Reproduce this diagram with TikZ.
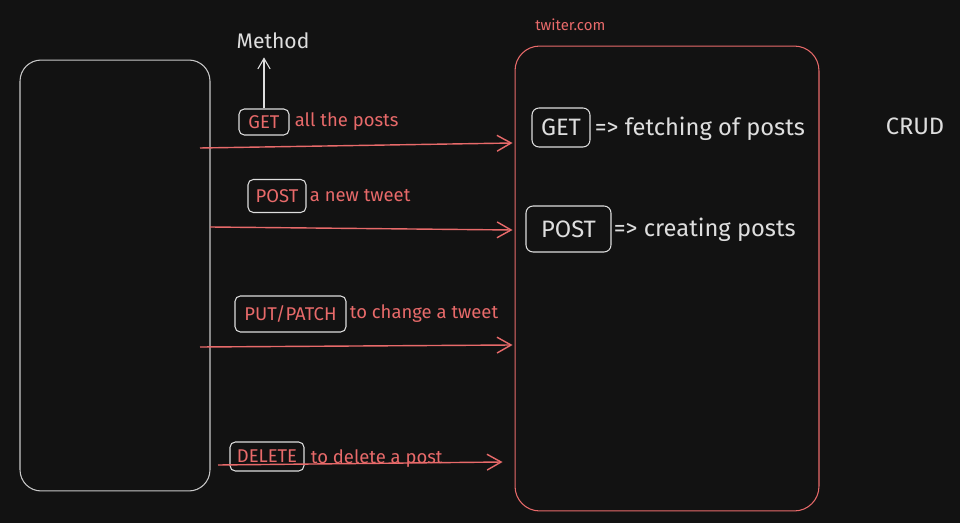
\documentclass[tikz,border=0pt]{standalone}
\usepackage{fontspec}
\setmainfont{Fira Sans}
\usetikzlibrary{calc,arrows.meta}

\definecolor{bg}{RGB}{18,18,18}
\definecolor{req}{RGB}{232,106,106}
\definecolor{chalk}{RGB}{222,222,222}

\begin{document}
\begin{tikzpicture}[x=0.02cm, y=-0.02cm]

\tikzset{
  box/.style={draw, rounded corners=12pt, inner sep=0pt, line width=0.6pt},
  method/.style={draw=chalk, rounded corners=3pt, inner sep=0pt, line width=0.6pt, text=req, font=\fontsize{10.5}{12}\selectfont},
  smethod/.style={draw=chalk, rounded corners=4pt, inner sep=0pt, line width=0.6pt, text=chalk, font=\fontsize{13.5}{16}\selectfont},
  note/.style={anchor=west, inner sep=0pt, text=req, font=\fontsize{10.5}{12}\selectfont},
  snote/.style={anchor=west, inner sep=0pt, text=chalk, font=\fontsize{13.5}{16}\selectfont},
  call/.style={draw=req, line width=0.8pt, -{Straight Barb[length=8pt, width=9pt]}},
}

\useasboundingbox[fill=bg] (0,0) rectangle (960,523);

% client and server
\node[box, draw=chalk!90!black, minimum width=3.8cm, minimum height=8.62cm, name=client] at (115,275.5) {};
\node[box, draw=req, rounded corners=14pt, minimum width=6.08cm, minimum height=9.3cm, name=server] at (667,278.5) {};
\node[anchor=west, inner sep=0pt, text=req, font=\fontsize{8.5}{10}\selectfont, name=host] at (535,25) {twiter.com};

% methods on the wire
\node[method, minimum width=1.0cm, minimum height=0.52cm, name=getm] at (264,122) {GET};
\node[method, minimum width=1.16cm, minimum height=0.66cm, name=postm] at (277,196) {POST};
\node[method, minimum width=2.22cm, minimum height=0.72cm, name=putm] at (290.5,314) {PUT/PATCH};
\node[method, minimum width=1.48cm, minimum height=0.58cm, name=delm] at (267,456.5) {DELETE};

\node[note, name=getn] at ($(getm.east)+(5,0)$) {all the posts};
\node[note, name=postn] at ($(postm.east)+(3,0)$) {a new tweet};
\node[note, name=putn] at ($(putm.east)+(3,0)$) {to change a tweet};
\node[note, name=deln] at ($(delm.east)+(6,2)$) {to delete a post};

\node[inner sep=0pt, text=chalk, font=\fontsize{12}{14}\selectfont, name=meth] at (273,41) {Method};
\draw[chalk, line width=0.6pt, -{Straight Barb[length=6pt, width=7pt]}] (getm.north) -- ($(getm.north |- meth.south)+(0,8)$);

% requests
\coordinate (c1) at (200,148);
\coordinate (c2) at (210,227);
\coordinate (c3) at (200,347);
\coordinate (c4) at (218,465);
\draw[call] (c1) -- ($(server.west |- 0,143)+(-2,0)$);
\draw[call] (c2) -- ($(server.west |- 0,230)+(-2,0)$);
\draw[call] (c3) -- ($(server.west |- 0,345)+(-2,0)$);
\draw[call] (c4) -- ($(server.west |- 0,462)+(-12,0)$);

% inside the server
\node[smethod, minimum width=1.16cm, minimum height=0.78cm, name=sget] at (561,127.5) {GET};
\node[smethod, minimum width=1.7cm, minimum height=0.92cm, name=spost] at (568.5,229) {POST};
\node[snote, name=sgetn] at ($(sget.east)+(4,1)$) {=> fetching of posts};
\node[snote, name=spostn] at ($(spost.east)+(2,1)$) {=> creating posts};

\node[inner sep=0pt, text=chalk, font=\fontsize{13.5}{16}\selectfont, name=crud] at (915,126) {CRUD};

\end{tikzpicture}
\end{document}
